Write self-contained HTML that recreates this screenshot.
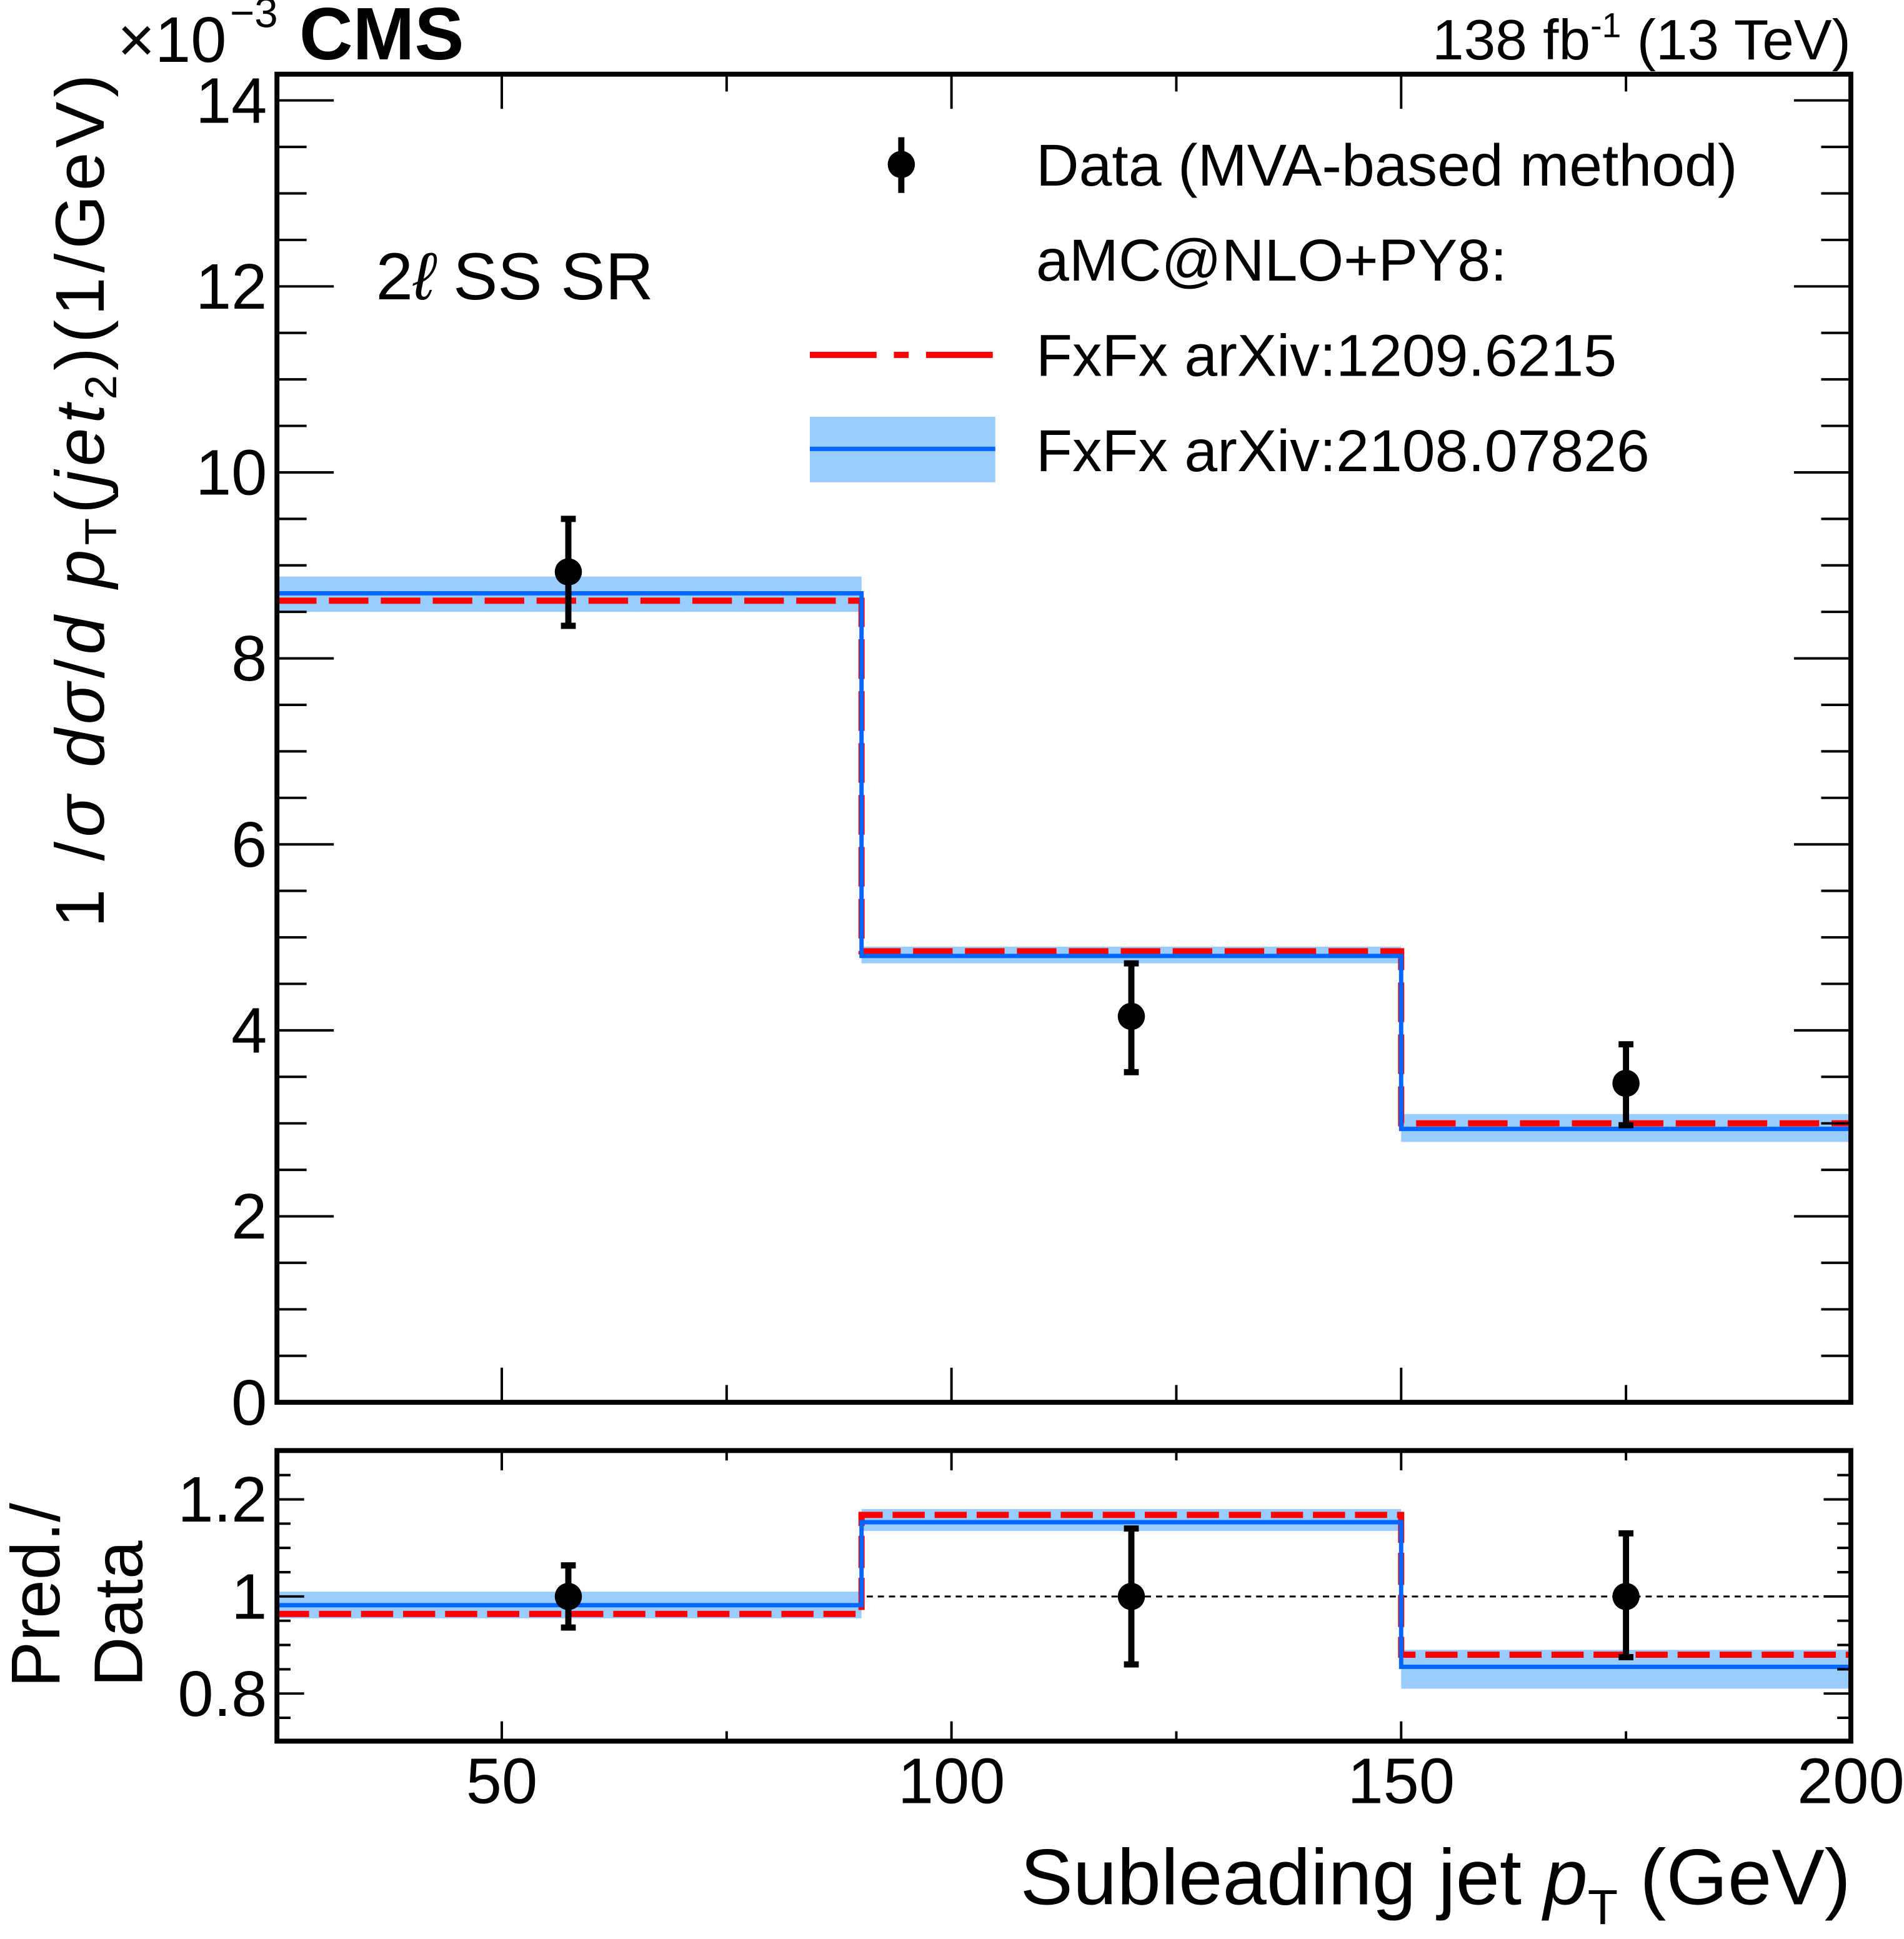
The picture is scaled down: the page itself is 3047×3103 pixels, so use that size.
<!DOCTYPE html>
<html><head><meta charset="utf-8"><style>
html,body{margin:0;padding:0;background:#fff;}
svg{display:block;font-family:"Liberation Sans",sans-serif;}
</style></head><body>
<svg id="chart" width="3047" height="3103" viewBox="0 0 1540 1568" preserveAspectRatio="none" xmlns="http://www.w3.org/2000/svg"></svg>
<script>
// ---- data ----
const binEdges = [25, 90, 150, 200];
const dataX = [57.4, 120, 175];
const dataY = [8.93, 4.15, 3.43];
const dataLo = [8.35, 3.55, 2.98];
const dataHi = [9.5, 4.72, 3.85];
const redMain = [8.62, 4.85, 3.0];
const blueMain = [8.7, 4.8, 2.94];
const bandLoMain = [8.5, 4.72, 2.8];
const bandHiMain = [8.88, 4.9, 3.1];
const redRatio = [0.964, 1.168, 0.88];
const blueRatio = [0.982, 1.153, 0.855];
const bandLoRatio = [0.955, 1.135, 0.81];
const bandHiRatio = [1.01, 1.18, 0.89];
const dataRatioLo = [0.936, 0.86, 0.875];
const dataRatioHi = [1.064, 1.14, 1.13];
const xTicks = [50, 100, 150, 200];
const yTicks = [0, 2, 4, 6, 8, 10, 12, 14];
const rTicks = [0.8, 1, 1.2];
const rTickLabels = ["0.8", "1", "1.2"];

const svg = document.getElementById('chart');
const NS = 'http://www.w3.org/2000/svg';
const L = 224, R = 1497, T = 60, B = 1134, RT = 1173, RB = 1408;
const xs = v => L + (v - 25) / 175 * (R - L);
const ys = v => B - v * 75.2;
const yr = v => 1291 - (v - 1) * 392.5;
function el(tag, attrs, parent) {
  const e = document.createElementNS(NS, tag);
  for (const k in attrs) e.setAttribute(k, attrs[k]);
  (parent || svg).appendChild(e);
  return e;
}
function txt(s, attrs, name) {
  const t = el('text', attrs);
  t.textContent = s;
  
  
  return t;
}

function drawPanel(yf, red, blue, lo, hi, prefix, dash) {
  for (let i = 0; i < 3; i++) {
    const x0 = xs(binEdges[i]), x1 = xs(binEdges[i + 1]);
    const b = el('rect', {x: x0, y: yf(hi[i]), width: x1 - x0, height: yf(lo[i]) - yf(hi[i]), fill: '#99ccff'});
    
    
  }
  let pr = '', pb = '';
  for (let i = 0; i < 3; i++) {
    const x0 = xs(binEdges[i]), x1 = xs(binEdges[i + 1]);
    pr += (i ? 'L' : 'M') + x0 + ',' + yf(red[i]) + 'L' + x1 + ',' + yf(red[i]);
    pb += (i ? 'L' : 'M') + x0 + ',' + yf(blue[i]) + 'L' + x1 + ',' + yf(blue[i]);
  }
  const lr = el('path', {d: pr, fill: 'none', stroke: '#ff0000', 'stroke-width': 5, 'stroke-dasharray': dash});
  
  
  const lb = el('path', {d: pb, fill: 'none', stroke: '#0066ff', 'stroke-width': 3.5});
  
  
}
function drawPoints(yf, yv, lo, hi, prefix) {
  for (let i = 0; i < 3; i++) {
    const x = xs(dataX[i]);
    const g = el('g', {});
    
    
    el('line', {x1: x, x2: x, y1: yf(lo[i]), y2: yf(hi[i]), stroke: '#000', 'stroke-width': 5}, g);
    el('line', {x1: x - 6, x2: x + 6, y1: yf(lo[i]), y2: yf(lo[i]), stroke: '#000', 'stroke-width': 5}, g);
    el('line', {x1: x - 6, x2: x + 6, y1: yf(hi[i]), y2: yf(hi[i]), stroke: '#000', 'stroke-width': 5}, g);
    el('circle', {cx: x, cy: yf(yv[i]), r: 11, fill: '#000'}, g);
  }
}

drawPanel(ys, redMain, blueMain, bandLoMain, bandHiMain, 'main', '32,10');
drawPoints(ys, dataY, dataLo, dataHi, 'main-data');

const one = el('line', {x1: L, x2: R, y1: yr(1), y2: yr(1), stroke: '#000', 'stroke-width': 1.5, 'stroke-dasharray': '5,4'});


drawPanel(yr, redRatio, blueRatio, bandLoRatio, bandHiRatio, 'ratio', '26,8');
drawPoints(yr, [1, 1, 1], dataRatioLo, dataRatioHi, 'ratio-data');

const f1 = el('rect', {x: L, y: T, width: R - L, height: B - T, fill: 'none', stroke: '#000', 'stroke-width': 4});


const f2 = el('rect', {x: L, y: RT, width: R - L, height: RB - RT, fill: 'none', stroke: '#000', 'stroke-width': 4});



const tk = el('g', {stroke: '#000', 'stroke-width': 2});


for (let v = 25; v <= 200; v += 25) {
  const x = xs(v), maj = v % 50 === 0, len = maj ? 28 : 14, lr2 = maj ? 16 : 8;
  el('line', {x1: x, x2: x, y1: B, y2: B - len}, tk);
  el('line', {x1: x, x2: x, y1: T, y2: T + len}, tk);
  el('line', {x1: x, x2: x, y1: RB, y2: RB - lr2}, tk);
  el('line', {x1: x, x2: x, y1: RT, y2: RT + lr2}, tk);
}
for (let v = 0; v <= 14.01; v += 0.5) {
  const y = ys(v), maj = Math.abs(v % 2) < 0.01, len = maj ? 46 : 24;
  el('line', {x1: L, x2: L + len, y1: y, y2: y}, tk);
  el('line', {x1: R, x2: R - len, y1: y, y2: y}, tk);
}
for (let v = 0.75; v <= 1.3; v += 0.05) {
  const y = yr(v); if (y < RT || y > RB) continue;
  const maj = Math.abs((v * 10) % 2) < 0.01 || Math.abs((v * 10) % 2 - 2) < 0.01, len = maj ? 22 : 11;
  el('line', {x1: L, x2: L + len, y1: y, y2: y}, tk);
  el('line', {x1: R, x2: R - len, y1: y, y2: y}, tk);
}

yTicks.forEach(v => txt(String(v), {x: 216, y: ys(v) + 18, 'font-size': 52, 'text-anchor': 'end'}, 'y-tick-label-' + v));
rTicks.forEach((v, i) => txt(rTickLabels[i], {x: 216, y: yr(v) + 18, 'font-size': 52, 'text-anchor': 'end'}, 'ratio-tick-label-' + i));
xTicks.forEach(v => txt(String(v), {x: xs(v), y: 1458, 'font-size': 52, 'text-anchor': 'middle'}, 'x-tick-label-' + v));

txt('×10', {x: 95, y: 50, 'font-size': 52}, 'y-scale-factor');
txt('−3', {x: 186, y: 22, 'font-size': 34}, 'y-scale-exponent');
txt('CMS', {x: 242, y: 48, 'font-size': 60, 'font-weight': 'bold'}, 'cms-label');
const lum = txt('', {x: 1497, y: 48, 'font-size': 46, 'text-anchor': 'end'}, 'lumi-label');
lum.innerHTML = '138 fb<tspan dy="-18" font-size="28">-1</tspan><tspan dy="18"> (13 TeV)</tspan>';
const yt = txt('', {transform: 'translate(84,405) rotate(-90)', 'font-size': 56, 'text-anchor': 'middle', textLength: 690, lengthAdjust: 'spacing'}, 'y-axis-title');
yt.innerHTML = '1 /<tspan font-style="italic">σ</tspan> <tspan font-style="italic">dσ</tspan>/<tspan font-style="italic">d p</tspan><tspan font-size="36" dy="10">T</tspan><tspan dy="-10">(</tspan><tspan font-style="italic">jet</tspan><tspan font-size="36" dy="10">2</tspan><tspan dy="-10">)(1/GeV)</tspan>';
txt('Pred./', {transform: 'translate(48,1290) rotate(-90)', 'font-size': 56, 'text-anchor': 'middle'}, 'ratio-title-line1');
txt('Data', {transform: 'translate(115,1305) rotate(-90)', 'font-size': 56, 'text-anchor': 'middle'}, 'ratio-title-line2');
const xt = txt('', {x: 1497, y: 1540, 'font-size': 64, 'text-anchor': 'end'}, 'x-axis-title');
xt.innerHTML = 'Subleading jet <tspan font-style="italic">p</tspan><tspan font-size="40" dy="16">T</tspan><tspan dy="-16"> (GeV)</tspan>';
const reg = txt('', {x: 304, y: 242, 'font-size': 54}, 'region-label');
reg.innerHTML = '2<tspan font-style="italic">ℓ</tspan> SS SR';

const lg = el('g', {});


el('line', {x1: 729, x2: 729, y1: 111, y2: 156, stroke: '#000', 'stroke-width': 5}, lg);
el('circle', {cx: 729, cy: 133, r: 11, fill: '#000'}, lg);
el('line', {x1: 655, x2: 805, y1: 287, y2: 287, stroke: '#ff0000', 'stroke-width': 5, 'stroke-dasharray': '54,14,12,14'}, lg);
el('rect', {x: 655, y: 337, width: 150, height: 53, fill: '#99ccff'}, lg);
el('line', {x1: 655, x2: 805, y1: 363, y2: 363, stroke: '#0066ff', 'stroke-width': 3.5}, lg);
txt('Data (MVA-based method)', {x: 838, y: 150, 'font-size': 48}, 'legend-data');
txt('aMC@NLO+PY8:', {x: 838, y: 227, 'font-size': 48}, 'legend-header');
txt('FxFx arXiv:1209.6215', {x: 838, y: 304, 'font-size': 48}, 'legend-fxfx-2012');
txt('FxFx arXiv:2108.07826', {x: 838, y: 381, 'font-size': 48}, 'legend-fxfx-2021');
</script>
</body></html>
